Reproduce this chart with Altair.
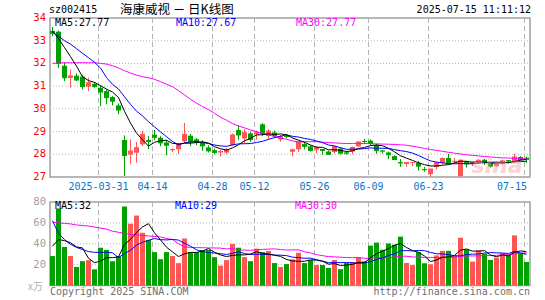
import altair as alt
import pandas as pd

# ---------------- data ----------------
opens = [33.43, 33.40, 31.90, 31.36, 31.46, 31.42, 30.98, 31.10, 30.93, 30.78,
         30.52, 30.15, 28.63, 27.99, 28.07, 28.44, 28.63, 28.86, 28.73, 28.52,
         28.18, 28.22, 28.57, 28.82, 28.66, 28.52, 28.30, 28.18, 28.08, 28.08,
         28.40, 29.07, 28.70, 28.92, 28.88, 29.32, 28.80, 28.96, 28.65, 28.82,
         28.11, 28.22, 28.45, 28.35, 28.20, 28.23, 28.12, 28.10, 28.25, 28.08,
         28.12, 28.35, 28.58, 28.60, 28.41, 28.16, 28.08, 27.92, 27.66, 27.57,
         27.62, 27.62, 27.34, 27.13, 27.44, 27.62, 27.84, 27.66, 27.04, 27.68,
         27.58, 27.62, 27.76, 27.60, 27.48, 27.57, 27.74, 27.66, 27.88, 27.85]
highs = [33.60, 33.45, 32.05, 31.74, 31.56, 31.50, 31.37, 31.18, 31.03, 30.86,
         30.56, 30.24, 28.83, 28.66, 28.54, 29.03, 28.80, 29.07, 28.80, 28.62,
         28.26, 28.50, 29.38, 28.90, 28.72, 28.62, 28.40, 28.25, 28.20, 28.28,
         28.92, 29.29, 29.10, 29.00, 29.05, 29.38, 29.11, 29.05, 28.85, 28.88,
         28.24, 28.56, 28.54, 28.42, 28.35, 28.23, 28.16, 28.38, 28.30, 28.14,
         28.34, 28.57, 28.68, 28.66, 28.47, 28.20, 28.12, 27.96, 27.79, 27.66,
         27.66, 27.71, 27.44, 27.36, 27.67, 27.86, 28.02, 27.84, 27.77, 27.71,
         27.68, 27.78, 27.80, 27.67, 27.70, 27.76, 27.75, 28.02, 27.92, 27.90]
lows = [33.20, 31.80, 31.22, 30.93, 31.22, 30.86, 30.78, 30.93, 30.12, 30.20,
        30.15, 29.76, 27.05, 27.56, 27.63, 28.36, 28.22, 28.62, 28.35, 27.96,
        28.10, 28.02, 28.50, 28.36, 28.40, 28.15, 28.08, 28.00, 27.90, 28.00,
        28.36, 28.62, 28.48, 28.55, 28.65, 28.80, 28.65, 28.72, 28.55, 28.70,
        27.91, 28.10, 28.22, 28.12, 28.05, 27.98, 27.98, 28.02, 27.99, 27.98,
        28.00, 28.33, 28.46, 28.40, 28.02, 28.03, 27.79, 27.74, 27.44, 27.44,
        27.47, 27.28, 27.23, 27.02, 27.33, 27.55, 27.55, 27.63, 27.01, 27.42,
        27.48, 27.57, 27.53, 27.42, 27.45, 27.53, 27.60, 27.60, 27.72, 27.62]
closes = [33.33, 32.00, 31.37, 31.45, 31.27, 30.98, 31.15, 30.98, 30.74, 30.49,
          30.34, 29.95, 27.95, 28.14, 28.29, 28.88, 28.56, 28.75, 28.50, 28.40,
          28.21, 28.42, 28.88, 28.55, 28.52, 28.37, 28.15, 28.08, 28.12, 28.20,
          28.85, 28.85, 28.95, 28.65, 28.95, 28.92, 29.02, 28.82, 28.77, 28.78,
          28.20, 28.54, 28.35, 28.17, 28.30, 28.17, 28.00, 28.35, 28.05, 28.05,
          28.30, 28.54, 28.56, 28.48, 28.16, 28.14, 27.98, 27.77, 27.62, 27.64,
          27.64, 27.48, 27.32, 27.35, 27.62, 27.82, 27.62, 27.69, 27.74, 27.58,
          27.62, 27.74, 27.62, 27.48, 27.62, 27.71, 27.72, 27.88, 27.77, 27.78]
volumes = [28.2, 73.8, 36.9, 28.2, 17.8, 23.3, 24.3, 15.5, 36.2, 34.0,
           23.3, 28.2, 75.7, 59.2, 67.0, 50.5, 43.7, 32.0, 25.2, 32.0,
           28.2, 21.4, 45.0, 32.0, 32.0, 34.0, 34.0, 27.2, 19.1, 24.3,
           39.8, 36.2, 27.2, 23.3, 35.3, 32.0, 33.0, 21.5, 17.7, 20.5,
           25.0, 31.3, 21.5, 24.4, 19.6, 19.6, 16.9, 24.4, 15.6, 21.5,
           22.5, 27.3, 23.2, 38.2, 41.1, 34.2, 40.3, 39.0, 46.8, 21.6,
           19.6, 32.0, 21.3, 20.3, 28.8, 33.2, 33.2, 28.3, 45.8, 34.5,
           22.9, 33.5, 30.5, 24.5, 26.7, 31.0, 29.0, 48.0, 31.0, 22.5]

# moving-average values visible before enough history exists
ma5_head = [33.43, 33.10, 32.70, 32.30]
ma10_head = [33.38, 33.20, 33.00, 32.85, 32.65, 32.45, 32.25, 32.05, 31.80]
ma30_head = [32.00, 32.02, 32.03, 32.03, 32.03, 32.03, 32.03, 32.03, 32.00, 31.97,
             31.90, 31.80, 31.68, 31.58, 31.48, 31.42, 31.37, 31.30, 31.20, 31.08,
             30.98, 30.80, 30.62, 30.42, 30.25, 30.10, 29.97, 29.80, 29.63]
vma5_head = [37.6, 44.0, 43.0, 41.0]
vma10_head = [62.0, 50.0, 44.0, 39.5, 36.5, 34.5, 32.5, 31.8, 31.7]
vma30_head = [60.8, 60.0, 59.5, 59.0, 58.0, 57.5, 57.0, 56.0, 55.0, 54.0,
              52.0, 51.0, 50.0, 49.0, 48.5, 48.0, 47.5, 47.0, 46.5, 45.0,
              44.0, 40.0, 37.0, 36.5, 36.3, 36.2, 36.0, 36.0, 35.8]

date_index = [8, 17, 27, 34, 44, 53, 63, 79]
date_labels = ["2025-03-31", "04-14", "04-28", "05-12", "05-26", "06-09", "06-23", "07-15"]
price_ticks = [27, 28, 29, 30, 31, 32, 33, 34]
price_grid = [28, 29, 30, 31, 32, 33]
vol_ticks = [20, 40, 60, 80]
vol_grid = [20, 40, 60]

RED = "#ff5555"
GREEN = "#00a000"
GRID = "#b4b4b4"
BORDER = "#a0a0a0"
MONO = "DejaVu Sans Mono"
CJK = "Noto Sans CJK SC"

N = len(closes)
df = pd.DataFrame({"i": list(range(N)), "open": opens, "high": highs, "low": lows,
                   "close": closes, "vol": volumes})
df["dir"] = ["up" if c >= o else "down" for o, c in zip(opens, closes)]
df["xl"] = df["i"]
df["xr"] = df["i"] + 5 / 6
df["xm"] = df["i"] + 5 / 12
df["zero"] = 0.0


def moving(series, n, head):
    s = series.rolling(n).mean()
    s.iloc[:len(head)] = head
    return s


df["ma5"] = moving(df["close"], 5, ma5_head)
df["ma10"] = moving(df["close"], 10, ma10_head)
df["ma30"] = moving(df["close"], 30, ma30_head)
df["vma5"] = moving(df["vol"], 5, vma5_head)
df["vma10"] = moving(df["vol"], 10, vma10_head)
df["vma30"] = moving(df["vol"], 30, vma30_head)

XS = alt.Scale(domain=[0, 80], range=[50, 530], zero=False, nice=False)
PY = alt.Scale(domain=[27, 34], range=[177, 18], zero=False, nice=False)
VY = alt.Scale(domain=[0, 80], range=[285.5, 202], zero=False, nice=False)
COL = alt.Color("dir:N", scale=alt.Scale(domain=["up", "down"], range=[RED, GREEN]), legend=None)

base = alt.Chart(df)
layers = []

# frames
frame_df = pd.DataFrame({"k": [0]})
for y0, y1 in [(18, 177), (202, 285.5)]:
    layers.append(alt.Chart(frame_df).mark_rect(fill="white", stroke=BORDER, strokeWidth=1.5).encode(
        x=alt.value(50), x2=alt.value(530), y=alt.value(y0), y2=alt.value(y1)))

# horizontal grid
layers.append(alt.Chart(pd.DataFrame({"v": price_grid})).mark_rule(
    color=GRID, strokeDash=[1, 2], strokeWidth=1).encode(
    y=alt.Y("v:Q", scale=PY, axis=None), x=alt.value(50), x2=alt.value(530)))
layers.append(alt.Chart(pd.DataFrame({"v": vol_grid})).mark_rule(
    color=GRID, strokeDash=[1, 2], strokeWidth=1).encode(
    y=alt.Y("v:Q", scale=VY, axis=None), x=alt.value(50), x2=alt.value(530)))

# vertical dashed grid
dates_df = pd.DataFrame({"idx": date_index, "label": date_labels})
dates_df["gx"] = dates_df["idx"] + 1 / 12
for y0, y1 in [(18, 177), (202, 285.5)]:
    layers.append(alt.Chart(dates_df).mark_rule(color=GRID, strokeDash=[5, 3], strokeWidth=1).encode(
        x=alt.X("gx:Q", scale=XS, axis=None), y=alt.value(y0), y2=alt.value(y1)))

# candles
layers.append(base.mark_rule(strokeWidth=1).encode(
    x=alt.X("xm:Q", scale=XS, axis=None), y=alt.Y("low:Q", scale=PY, axis=None), y2="high:Q", color=COL))
layers.append(base.mark_bar(strokeWidth=0).encode(
    x=alt.X("xl:Q", scale=XS, axis=None), x2="xr:Q",
    y=alt.Y("open:Q", scale=PY, axis=None), y2="close:Q", color=COL))
layers.append(base.mark_rule(strokeWidth=1).encode(
    x=alt.X("xl:Q", scale=XS, axis=None), x2="xr:Q",
    y=alt.Y("close:Q", scale=PY, axis=None), color=COL))

# price MAs
for col, c in [("ma30", "#ff00ff"), ("ma10", "#0000ff"), ("ma5", "#000000")]:
    layers.append(base.mark_line(color=c, strokeWidth=1).encode(
        x=alt.X("xm:Q", scale=XS, axis=None), y=alt.Y(f"{col}:Q", scale=PY, axis=None)))

# volume bars
layers.append(base.mark_bar(strokeWidth=0).encode(
    x=alt.X("xl:Q", scale=XS, axis=None), x2="xr:Q",
    y=alt.Y("vol:Q", scale=VY, axis=None), y2="zero:Q", color=COL))
for col, c in [("vma30", "#ff00ff"), ("vma10", "#0000ff"), ("vma5", "#000000")]:
    layers.append(base.mark_line(color=c, strokeWidth=1).encode(
        x=alt.X("xm:Q", scale=XS, axis=None), y=alt.Y(f"{col}:Q", scale=VY, axis=None)))

# axis labels
layers.append(alt.Chart(pd.DataFrame({"v": price_ticks})).mark_text(
    align="right", baseline="middle", font=MONO, fontSize=10.5, color="#ff0000").encode(
    x=alt.value(46), y=alt.Y("v:Q", scale=PY, axis=None), text=alt.Text("v:Q", format="d")))
layers.append(alt.Chart(pd.DataFrame({"v": vol_ticks})).mark_text(
    align="right", baseline="middle", font=MONO, fontSize=10.5, color="#a0a0a0").encode(
    x=alt.value(46), y=alt.Y("v:Q", scale=VY, axis=None), text=alt.Text("v:Q", format="d")))
layers.append(alt.Chart(dates_df.iloc[:-1]).mark_text(
    align="center", baseline="middle", font=MONO, fontSize=10, color="#0a74c8").encode(
    x=alt.X("gx:Q", scale=XS, axis=None), y=alt.value(187), text="label:N"))
layers.append(alt.Chart(dates_df.iloc[-1:]).mark_text(
    align="right", baseline="middle", font=MONO, fontSize=10, color="#0a74c8").encode(
    x=alt.value(527), y=alt.value(187), text="label:N"))


def txt(s, x, y, color, size=10, align="left", font=MONO, **kw):
    return alt.Chart(pd.DataFrame({"t": [s]})).mark_text(
        align=align, baseline="middle", font=font, fontSize=size, color=color, **kw).encode(
        x=alt.value(x), y=alt.value(y), text="t:N")


layers += [
    txt("sz002415", 49, 10, "#000000"),
    txt("海康威视  －  日K线图", 120, 10, "#000000", size=12.5, font=CJK),
    txt("2025-07-15 11:11:12", 531, 10, "#000000", align="right"),
    txt("MA5:27.77", 55, 23, "#000000"),
    txt("MA10:27.67", 176, 23, "#0000ff"),
    txt("MA30:27.77", 296, 23, "#ff00ff"),
    txt("MA5:32", 55, 206, "#000000"),
    txt("MA10:29", 175, 206, "#0000ff"),
    txt("MA30:30", 295, 206, "#ff00ff"),
    txt("x万", 28, 287, "#b0b0b0", size=10, font=CJK),
    txt("Copyright 2025 SINA.COM", 50, 292, "#707070"),
    txt("http://finance.sina.com.cn", 530, 292, "#707070", align="right"),
    txt("sina", 497, 166, "#f4a0a0", size=22, align="center", font="DejaVu Sans",
        fontStyle="italic", fontWeight="bold", opacity=0.45),
]

chart = alt.layer(*layers).resolve_scale(y="independent").properties(
    width=545, height=300, autosize=alt.AutoSizeParams(type="none"),
    padding=0, background="white"
).configure_view(stroke=None)

chart.save("out.html", embed_options={"renderer": "svg", "actions": False})
